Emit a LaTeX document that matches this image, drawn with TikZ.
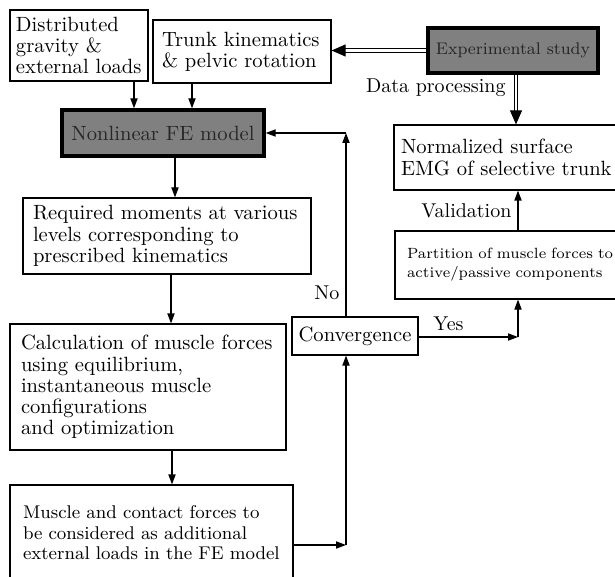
\documentclass[tikz,border=0pt]{standalone}
\usetikzlibrary{arrows.meta}
\usetikzlibrary{positioning,calc}
\tikzset{block/.style={draw,line width=0.6pt,align=left,inner ysep=2pt,
		         font=\fontsize{10.3}{10.6}\selectfont},
		blockGray/.style={block,fill=black!50,line width=1.7pt,align=center,text=black!85},
		Dedge/.style={-{Triangle[length=5pt,width=3.6pt]},line width=0.6pt},
		DedgeDouble/.style={-{Triangle[length=7pt,width=6pt]},line width=0.5pt,double,double distance=1.1pt},
		edgeLabel/.style={font=\fontsize{10}{12}\selectfont,inner sep=2pt},
		every node/.style={align=center}}
\begin{document}
\begin{tikzpicture}[x=0.5pt,y=-0.5pt]
\useasboundingbox (0,0) rectangle (615,577);
% input boxes
\node[block,text width=63pt,inner xsep=3pt,minimum height=35.5pt] (dist) at (79,45.5)
		{Distributed\\gravity \&\\external loads};
\node[block,text width=80pt,inner xsep=4.5pt,minimum height=31.5pt] (trunk) at (242,51.5)
		{Trunk kinematics\\\& pelvic rotation};
\node[blockGray,minimum width=85pt,minimum height=22.5pt,font=\fontsize{8.4}{10}\selectfont] (exp) at (513,50.5)
		{Experimental study};
\node[blockGray,minimum width=101pt,minimum height=23pt] (fem) at (163,133)
		{Nonlinear FE model};
% left column
\node[block,text width=134pt,inner xsep=5pt,minimum height=38pt] (req) at (167,236)
		{Required moments at various\\levels corresponding to\\prescribed kinematics};
\node[block,text width=127pt,inner xsep=5.5pt,minimum height=63pt] (calc) at (148,387)
		{Calculation of muscle forces\\using equilibrium,\\instantaneous muscle\\configurations\\and optimization};
\node[block,text width=128.5pt,inner xsep=6.5pt,minimum height=48pt,font=\fontsize{9.2}{10.2}\selectfont] (musc) at (151.5,533)
		{Muscle and contact forces to\\be considered as additional\\external loads in the FE model};
% right column
\node[block,text width=106pt,inner xsep=3.5pt,minimum height=32.5pt] (emg) at (507,157.5)
		{Normalized surface\\EMG of selective trunk};
\node[block,text width=106pt,inner xsep=6pt,minimum height=34pt,font=\fontsize{7.4}{9.5}\selectfont] (part) at (513,265)
		{Partition of muscle forces to\\active/passive components};
\node[block,minimum width=62pt,minimum height=19pt,align=center] (conv) at (355,336)
		{Convergence};
\coordinate (c1) at (346,545);
\coordinate (c2) at (346,133);
\coordinate (c3) at (518,337);
% connectors
\draw[Dedge] ([xshift=27.5pt]dist.south) -- ([xshift=27.5pt]dist.south |- fem.north);
\draw[Dedge] ([xshift=-25pt]trunk.south) -- ([xshift=-25pt]trunk.south |- fem.north);
\draw[DedgeDouble] (exp.west) -- (exp.west -| trunk.east);
\draw[DedgeDouble] ([xshift=1.5pt]exp.south) -- ([xshift=1.5pt]exp.south |- emg.north)
		node[edgeLabel,pos=0.27,left=3pt] {Data processing};
\draw[Dedge] ([xshift=6pt]fem.south) -- ([xshift=6pt]fem.south |- req.north);
\draw[Dedge] ([xshift=2pt]req.south) -- ([xshift=2pt]req.south |- calc.north);
\draw[Dedge] ([xshift=12pt]calc.south) -- ([xshift=12pt]calc.south |- musc.north);
\draw[Dedge] (musc.east |- c1) -- (c1);
\draw[Dedge] (c1) -- (c1 |- conv.south);
\draw[Dedge] (c1 |- conv.north) -- (c2) node[edgeLabel,pos=0.13,left=1pt] {No};
\draw[Dedge] (c2) -- (fem.east);
\draw[Dedge] (conv.east |- c3) -- (c3) node[edgeLabel,pos=0.3,above=1pt] {Yes};
\draw[Dedge] (c3) -- (c3 |- part.south);
\draw[Dedge] (c3 |- part.north) -- (c3 |- emg.south)
		node[edgeLabel,midway,left=1pt] {Validation};
\end{tikzpicture}
\end{document}
